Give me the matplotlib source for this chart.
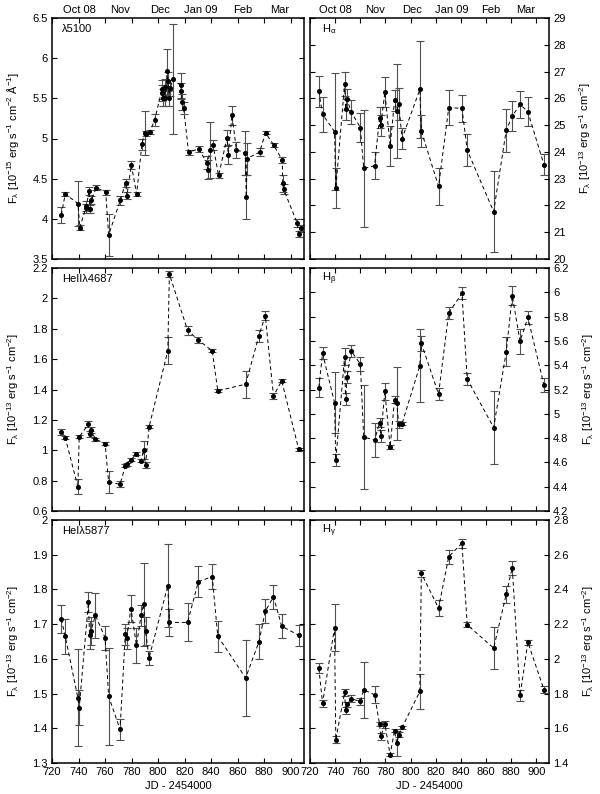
import matplotlib
matplotlib.use('Agg')
import matplotlib.pyplot as plt
from matplotlib.ticker import MultipleLocator, FormatStrFormatter

plt.rcParams['font.family'] = ['Liberation Sans', 'DejaVu Sans']
plt.rcParams['font.size'] = 8
plt.rcParams['mathtext.fontset'] = 'custom'
plt.rcParams['mathtext.rm'] = 'Liberation Sans'
plt.rcParams['mathtext.it'] = 'Liberation Sans:italic'
plt.rcParams['mathtext.default'] = 'regular'

# continuum at 5100 A, denser sampling
jd_cont = [727, 730, 739.6, 740.9, 745.4, 745.9, 748, 748.4, 749.6, 753.4,
           760.5, 762.7, 771.5, 775.5, 776.5, 779.8, 783.8, 787.8, 789.8, 791.1,
           793.6, 797.4, 802.9, 803.2, 803.6, 804.9, 805.3, 806.9, 807.6, 808.2,
           809.2, 811.2, 817, 817.5, 818.2, 819.2, 823, 830.5, 836.8, 837.3,
           838.8, 841.4, 845.6, 852, 852.9, 855.7, 859, 865.7, 866.5, 867,
           876.5, 881, 887.1, 893.6, 894.0, 894.6, 904.8, 906.3, 907.6]
f_cont = [4.05, 4.31, 4.19, 3.89, 4.13, 4.16, 4.35, 4.12, 4.23, 4.39,
          4.33, 3.80, 4.23, 4.45, 4.29, 4.67, 4.31, 4.93, 5.07, 5.06,
          5.08, 5.23, 5.61, 5.57, 5.51, 5.64, 5.50, 5.84, 5.71, 5.50,
          5.63, 5.74, 5.66, 5.59, 5.45, 5.38, 4.83, 4.87, 4.70, 4.61,
          4.86, 4.92, 4.54, 5.01, 4.80, 5.29, 4.86, 4.82, 4.27, 4.75,
          4.83, 5.07, 4.92, 4.73, 4.44, 4.37, 3.95, 3.81, 3.88]
e_cont = [0.10, 0.03, 0.28, 0.03, 0.06, 0.06, 0.05, 0.05, 0.05, 0.03,
          0.03, 0.26, 0.06, 0.05, 0.04, 0.05, 0.03, 0.07, 0.27, 0.03,
          0.02, 0.08, 0.12, 0.10, 0.10, 0.10, 0.10, 0.28, 0.12, 0.10,
          0.10, 0.68, 0.15, 0.10, 0.10, 0.08, 0.03, 0.04, 0.08, 0.12,
          0.35, 0.06, 0.03, 0.10, 0.12, 0.12, 0.10, 0.27, 0.27, 0.20,
          0.05, 0.02, 0.03, 0.04, 0.10, 0.06, 0.05, 0.04, 0.04]

# line epochs
jd_line = [727, 730, 739.5, 740.5, 747.5, 748.3, 749.5, 752.7, 760, 762.7,
           771.3, 775.3, 776.3, 779.5, 783.7, 787.2, 789, 790.5, 793.2, 807.3,
           808.5, 822.2, 830.3, 840.8, 845, 866, 876, 880.8, 887, 893.2, 906]

f_ha = [26.27, 25.40, 24.76, 22.65, 26.52, 25.59, 25.96, 25.50, 24.91, 23.38,
        23.48, 25.28, 24.99, 26.23, 24.22, 25.92, 25.53, 25.80, 24.50, 26.33,
        24.78, 22.71, 25.65, 25.63, 24.06, 21.77, 24.81, 25.34, 25.77, 25.50, 23.52]
e_ha = [0.58, 0.65, 2.2, 0.75, 0.45, 0.4, 0.4, 0.45, 0.55, 2.2,
        0.5, 0.4, 0.4, 0.55, 0.75, 0.4, 1.75, 0.6, 0.4, 1.8,
        0.6, 0.7, 0.65, 0.5, 0.6, 1.5, 0.8, 0.55, 0.5, 0.55, 0.4]

f_he2 = [1.123, 1.083, 0.760, 1.088, 1.171, 1.106, 1.134, 1.073, 1.044, 0.791,
         0.776, 0.897, 0.908, 0.936, 0.978, 0.930, 1.002, 0.903, 1.154, 1.655,
         2.160, 1.791, 1.725, 1.655, 1.391, 1.435, 1.754, 1.886, 1.358, 1.457, 1.007]
e_he2 = [0.02, 0.01, 0.05, 0.01, 0.02, 0.02, 0.02, 0.01, 0.01, 0.07,
         0.02, 0.01, 0.01, 0.01, 0.01, 0.01, 0.06, 0.02, 0.01, 0.09,
         0.02, 0.03, 0.02, 0.01, 0.01, 0.09, 0.04, 0.03, 0.02, 0.01, 0.01]

f_hb = [5.216, 5.497, 5.093, 4.620, 5.469, 5.120, 5.304, 5.519, 5.409, 4.810,
        4.782, 4.928, 4.818, 5.184, 4.727, 5.115, 5.085, 4.914, 4.920, 5.395,
        5.580, 5.162, 5.832, 5.991, 5.285, 4.887, 5.510, 5.972, 5.596, 5.793, 5.236]
e_hb = [0.08, 0.05, 0.25, 0.05, 0.07, 0.05, 0.05, 0.05, 0.06, 0.43,
        0.14, 0.04, 0.05, 0.07, 0.02, 0.03, 0.30, 0.03, 0.01, 0.30,
        0.06, 0.05, 0.05, 0.05, 0.05, 0.30, 0.12, 0.08, 0.10, 0.05, 0.06]

f_he1 = [1.714, 1.665, 1.488, 1.459, 1.764, 1.668, 1.681, 1.726, 1.661, 1.492,
         1.397, 1.671, 1.659, 1.745, 1.639, 1.726, 1.757, 1.680, 1.603, 1.811,
         1.705, 1.705, 1.822, 1.837, 1.665, 1.545, 1.649, 1.737, 1.779, 1.694, 1.668]
e_he1 = [0.04, 0.05, 0.14, 0.05, 0.03, 0.04, 0.04, 0.065, 0.035, 0.14,
         0.03, 0.03, 0.03, 0.04, 0.05, 0.03, 0.12, 0.04, 0.02, 0.12,
         0.04, 0.055, 0.045, 0.035, 0.045, 0.11, 0.05, 0.035, 0.035, 0.035, 0.03]

f_hg = [1.947, 1.745, 2.180, 1.534, 1.807, 1.703, 1.739, 1.770, 1.755, 1.822,
        1.793, 1.624, 1.553, 1.624, 1.448, 1.586, 1.513, 1.563, 1.605, 1.812,
        2.493, 2.292, 2.589, 2.666, 2.196, 2.062, 2.372, 2.526, 1.789, 2.096, 1.822]
e_hg = [0.03, 0.02, 0.135, 0.02, 0.02, 0.02, 0.015, 0.02, 0.02, 0.16,
        0.05, 0.01, 0.02, 0.02, 0.01, 0.01, 0.07, 0.015, 0.01, 0.10,
        0.02, 0.045, 0.04, 0.025, 0.015, 0.12, 0.05, 0.04, 0.03, 0.015, 0.02]

month_pos = [740.5, 771.5, 801.5, 832.5, 863.5, 891.5]
month_labels = ['Oct 08', 'Nov', 'Dec', 'Jan 09', 'Feb', 'Mar']

unit15 = r'F$_\lambda$ [10$^{-15}$ erg s$^{-1}$ cm$^{-2}$ Å$^{-1}$]'
unit13 = r'F$_\lambda$ [10$^{-13}$ erg s$^{-1}$ cm$^{-2}$]'

W, H = 600, 794
fig = plt.figure(figsize=(W / 100, H / 100), dpi=100)

def box(x0, x1, ytop, ybot):
    return [x0 / W, 1 - ybot / H, (x1 - x0) / W, (ybot - ytop) / H]

rows = [(18, 259), (268, 511), (520, 763)]
cols = [(52, 304), (310, 549)]

panels = [
    (0, 0, jd_cont, f_cont, e_cont, u'λ5100', (3.5, 6.5), 0.5, unit15),
    (0, 1, jd_line, f_ha, e_ha, r'H$_\alpha$', (20, 29), 1, unit13),
    (1, 0, jd_line, f_he2, e_he2, u'HeIIλ4687', (0.6, 2.2), 0.2, unit13),
    (1, 1, jd_line, f_hb, e_hb, r'H$_\beta$', (4.2, 6.2), 0.2, unit13),
    (2, 0, jd_line, f_he1, e_he1, u'HeIλ5877', (1.3, 2.0), 0.1, unit13),
    (2, 1, jd_line, f_hg, e_hg, r'H$_\gamma$', (1.4, 2.8), 0.2, unit13),
]

for r, c, x, y, e, name, ylim, step, unit in panels:
    ax = fig.add_axes(box(cols[c][0], cols[c][1], rows[r][0], rows[r][1]))
    ax.errorbar(x, y, yerr=e, fmt='none', ecolor='#505050', elinewidth=0.8,
                capsize=2.8, capthick=0.8, zorder=2)
    ax.plot(x, y, color='black', lw=0.7, ls=(0, (4, 3)), marker='o',
            ms=2.6, mfc='black', mec='black', zorder=3)
    ax.set_xlim(720, 910)
    ax.set_ylim(*ylim)
    ax.xaxis.set_major_locator(MultipleLocator(20))
    ax.yaxis.set_major_locator(MultipleLocator(step))
    ax.yaxis.set_major_formatter(FormatStrFormatter('%g'))
    ax.tick_params(direction='in', length=3.6, width=0.8, top=True,
                   bottom=True, left=True, right=True, labelsize=8, pad=3)
    for s in ax.spines.values():
        s.set_linewidth(1.1)
    if r < 2:
        ax.tick_params(labelbottom=False)
    else:
        ax.set_xlabel('JD - 2454000', labelpad=3)
    if c == 1:
        ax.yaxis.tick_right()
        ax.yaxis.set_label_position('right')
        ax.tick_params(left=True, right=True, direction='in')
    ax.set_ylabel(unit, labelpad=8)
    if r == 0:
        sec = ax.secondary_xaxis('top')
        sec.set_xticks(month_pos)
        sec.set_xticklabels(month_labels)
        sec.tick_params(length=0, pad=2, labelsize=8)
        sec.spines['top'].set_visible(False)
    ax.text(0.04 if c == 0 else 0.05, 0.955, name, transform=ax.transAxes,
            ha='left', va='center', fontsize=8)

fig.savefig('out.png', dpi=100)
